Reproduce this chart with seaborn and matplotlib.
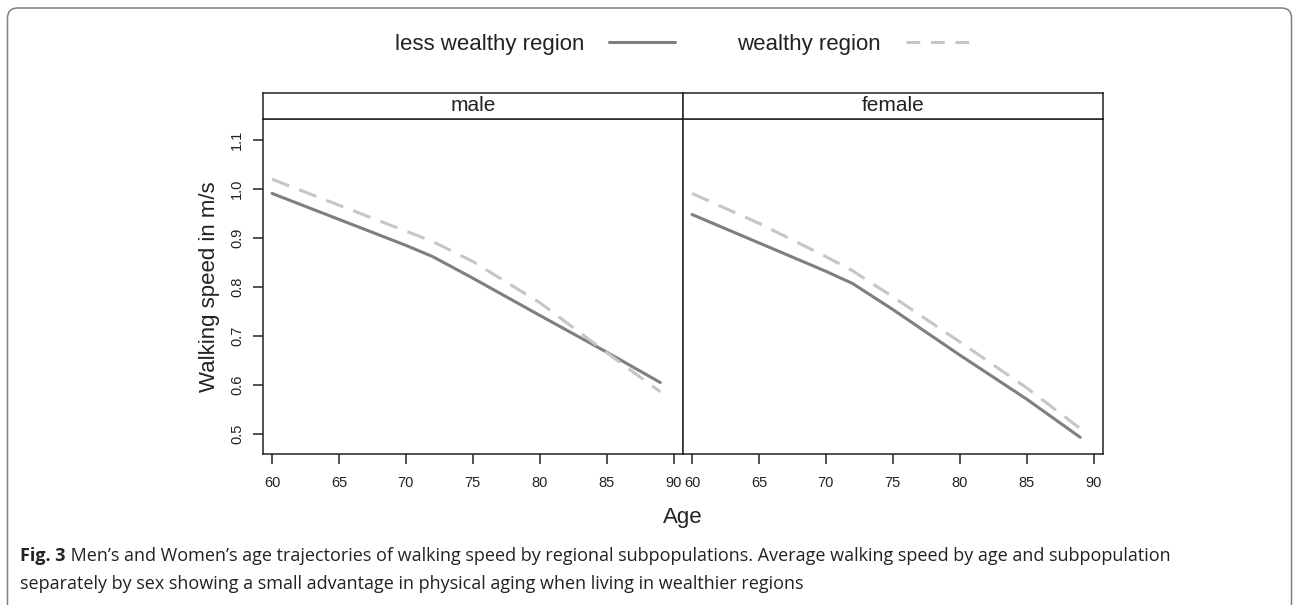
import numpy as np
import pandas as pd
import seaborn as sns
import matplotlib.pyplot as plt
from matplotlib.lines import Line2D
from matplotlib.patches import FancyBboxPatch
from matplotlib.transforms import IdentityTransform

# values
ages = [60, 65, 70, 72, 75, 80, 85, 89]
male_less = [0.991, 0.938, 0.885, 0.862, 0.818, 0.742, 0.667, 0.605]
male_wealthy = [1.020, 0.967, 0.914, 0.893, 0.852, 0.768, 0.666, 0.586]
female_less = [0.948, 0.890, 0.832, 0.807, 0.754, 0.661, 0.571, 0.493]
female_wealthy = [0.991, 0.930, 0.862, 0.833, 0.780, 0.688, 0.594, 0.511]

regions = ["less wealthy region", "wealthy region"]
panels = ["male", "female"]
x_ticks = [60, 65, 70, 75, 80, 85, 90]
y_ticks = [0.5, 0.6, 0.7, 0.8, 0.9, 1.0, 1.1]

caption_bold = "Fig. 3"
caption_1 = " Men\u2019s and Women\u2019s age trajectories of walking speed by regional subpopulations. Average walking speed by age and subpopulation"
caption_2 = "separately by sex showing a small advantage in physical aging when living in wealthier regions"

rows = []
for sex, less, wealthy in [("male", male_less, male_wealthy), ("female", female_less, female_wealthy)]:
    for a, v in zip(ages, less):
        rows.append((sex, regions[0], a, v))
    for a, v in zip(ages, wealthy):
        rows.append((sex, regions[1], a, v))
df = pd.DataFrame(rows, columns=["sex", "region", "age", "speed"])

sns.set_style("ticks")
plt.rcParams["font.family"] = ["Liberation Sans", "DejaVu Sans"]

palette = {regions[0]: "#7f7f7f", regions[1]: "#c6c6c6"}
dashes = {regions[0]: "", regions[1]: (6, 3.5)}
ink = "#222222"

W, H = 1294, 605
fig = plt.figure(figsize=(W / 100, H / 100), dpi=100)

def fx(px):
    return px / W

def fy(py):
    return 1 - py / H

p_left = [262.7, 682.7]
p_w = 420.3
p_top, p_bot, s_top = 119, 454, 92.5

for i, sex in enumerate(panels):
    ax = fig.add_axes([fx(p_left[i]), fy(p_bot), fx(p_w), (p_bot - p_top) / H])
    sns.lineplot(data=df[df["sex"] == sex], x="age", y="speed", hue="region", style="region",
                 palette=palette, dashes=dashes, linewidth=2.2, legend=False, ax=ax)
    ax.set_xlim(59.3, 90.7)
    ax.set_ylim(0.459, 1.143)
    ax.set_xlabel("")
    ax.set_ylabel("")
    for sp in ax.spines.values():
        sp.set_visible(True)
        sp.set_linewidth(1.1)
        sp.set_color(ink)
    ax.set_xticks(x_ticks)
    ax.tick_params(axis="x", bottom=True, direction="out", length=7.5, width=1.1,
                   pad=8, labelsize=10.5, colors=ink)
    if i == 0:
        ax.set_yticks(y_ticks)
        ax.set_yticklabels([f"{t:.1f}" for t in y_ticks], rotation=90, va="center")
        ax.tick_params(axis="y", left=True, direction="out", length=7.5, width=1.1,
                       pad=6, labelsize=10.5, colors=ink)
    else:
        ax.set_yticks(y_ticks)
        ax.tick_params(axis="y", left=False, labelleft=False)

    # strip on top of the panel
    sax = fig.add_axes([fx(p_left[i]), fy(p_top), fx(p_w), (p_top - s_top) / H])
    sax.set_xticks([])
    sax.set_yticks([])
    for sp in sax.spines.values():
        sp.set_linewidth(1.1)
        sp.set_color(ink)
    sax.text(0.5, 0.5, sex, ha="center", va="center", fontsize=15, color=ink,
             transform=sax.transAxes)

fig.text(fx(210), fy(287), "Walking speed in m/s", rotation=90, ha="center", va="center",
         fontsize=16, color=ink)
fig.text(fx(682.7), fy(517), "Age", ha="center", va="center", fontsize=16, color=ink)

handles = [Line2D([], [], color=palette[regions[0]], lw=2.2),
           Line2D([], [], color=palette[regions[1]], lw=2.2, dashes=(4.5, 3.5))]
fig.legend(handles, regions, loc="center", bbox_to_anchor=(fx(683.5), fy(44.5)), ncol=2,
           frameon=False, markerfirst=False, fontsize=16, handlelength=3.0,
           handletextpad=1.1, columnspacing=2.8, labelcolor=ink)

# caption
cap_font = ["Open Sans", "DejaVu Sans"]
cap_size = 13
tb = fig.text(fx(20), fy(556), caption_bold, ha="left", va="center", fontsize=cap_size,
              fontweight="bold", family=cap_font, color=ink)
t1 = fig.text(fx(20), fy(556), caption_1, ha="left", va="center", fontsize=cap_size,
              family=cap_font, color=ink)
fig.text(fx(20), fy(584), caption_2, ha="left", va="center", fontsize=cap_size,
         family=cap_font, color=ink)

frame = FancyBboxPatch((7.5, -30), 1284, H - 8 + 30, boxstyle="round,pad=0,rounding_size=10",
                       transform=IdentityTransform(), fill=False, ec="#808080", lw=1.1)
fig.add_artist(frame)

# shift caption_1 right of the bold part
fig.canvas.draw()
r = fig.canvas.get_renderer()
bb = tb.get_window_extent(r)
t1.set_x(bb.x1 / W)

fig.savefig("out.png", dpi=100)
